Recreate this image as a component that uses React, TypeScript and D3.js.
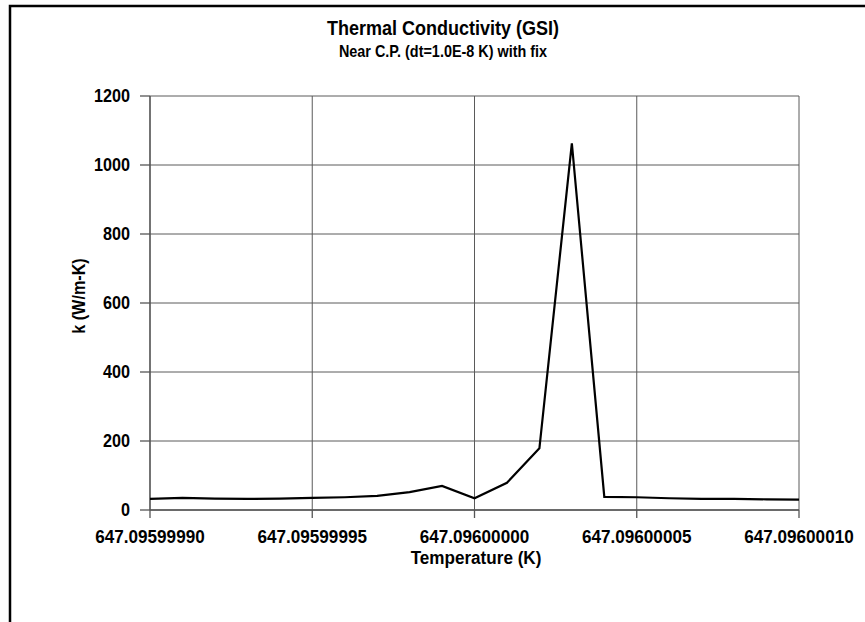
import React from "react";
import * as d3 from "d3";

const temperatures: number[] = [
  647.0959999, 647.09599991, 647.09599992, 647.09599993, 647.09599994,
  647.09599995, 647.09599996, 647.09599997, 647.09599998, 647.09599999,
  647.096, 647.09600001, 647.09600002, 647.09600003, 647.09600004,
  647.09600005, 647.09600006, 647.09600007, 647.09600008, 647.09600009,
  647.0960001,
];
const conductivity: number[] = [
  32, 35, 33, 32, 33, 35, 37, 41, 52, 70, 34, 79, 179, 1063, 38, 37, 34, 32, 32,
  31, 30,
];
const xTicks: number[] = [647.0959999, 647.09599995, 647.096, 647.09600005, 647.0960001];
const xTickLabels: string[] = [
  "647.09599990",
  "647.09599995",
  "647.09600000",
  "647.09600005",
  "647.09600010",
];
const yTicks: number[] = [0, 200, 400, 600, 800, 1000, 1200];

const W = 865;
const H = 622;
const left = 150;
const right = 799;
const top = 96;
const bottom = 510;
const FONT = "'Liberation Sans', Arial, Helvetica, sans-serif";
const GRID = "#5a5a5a";
const SX = 0.9;

function T(props: {
  x: number;
  y: number;
  size: number;
  anchor: "start" | "middle" | "end";
  rotate?: number;
  children: React.ReactNode;
}) {
  const rot = props.rotate ? ` rotate(${props.rotate})` : "";
  return (
    <text
      transform={`translate(${props.x},${props.y})${rot} scale(${SX},1)`}
      textAnchor={props.anchor}
      fontSize={props.size}
      fontWeight="bold"
      fill="#000"
    >
      {props.children}
    </text>
  );
}

export default function App() {
  const x = d3.scaleLinear().domain([xTicks[0], xTicks[xTicks.length - 1]]).range([left, right]);
  const y = d3.scaleLinear().domain([0, 1200]).range([bottom, top]);
  const line = d3
    .line<number>()
    .x((_, i) => x(temperatures[i]))
    .y((d) => y(d));
  const path = line(conductivity) || "";

  return (
    <svg
      width={W}
      height={H}
      style={{ position: "absolute", left: 0, top: 0, background: "#fff" }}
      fontFamily={FONT}
    >
      <rect x={0} y={0} width={W} height={H} fill="#fdfdfd" />
      <rect x={10} y={6} width={1000} height={1000} fill="#fff" stroke="#000" strokeWidth={2.5} />

      {yTicks.map((t) => (
        <line key={"hy" + t} x1={left} x2={right} y1={y(t)} y2={y(t)} stroke={GRID} strokeWidth={1} />
      ))}
      {xTicks.map((t) => (
        <line key={"vx" + t} x1={x(t)} x2={x(t)} y1={top} y2={bottom} stroke={GRID} strokeWidth={1} />
      ))}
      <line x1={left} x2={left} y1={top} y2={bottom} stroke="#555" strokeWidth={1.3} />
      <line x1={left} x2={right} y1={bottom} y2={bottom} stroke="#555" strokeWidth={1.3} />
      {yTicks.map((t) => (
        <line key={"ty" + t} x1={left - 10} x2={left} y1={y(t)} y2={y(t)} stroke="#555" strokeWidth={1.3} />
      ))}
      {xTicks.map((t) => (
        <line key={"tx" + t} x1={x(t)} x2={x(t)} y1={bottom} y2={bottom + 8} stroke="#555" strokeWidth={1.3} />
      ))}

      <path d={path} fill="none" stroke="#000" strokeWidth={2.2} strokeLinejoin="miter" />

      {yTicks.map((t) => (
        <T key={"ly" + t} x={130} y={y(t) + 6} size={18} anchor="end">
          {t}
        </T>
      ))}
      {xTicks.map((t, i) => (
        <T key={"lx" + t} x={x(t)} y={543} size={19} anchor="middle">
          {xTickLabels[i]}
        </T>
      ))}

      <T x={443} y={35} size={20} anchor="middle">
        Thermal Conductivity (GSI)
      </T>
      <T x={443} y={57} size={16} anchor="middle">
        Near C.P. (dt=1.0E-8 K) with fix
      </T>
      <T x={476} y={564} size={19} anchor="middle">
        Temperature (K)
      </T>
      <T x={85} y={296} size={18} anchor="middle" rotate={-90}>
        k (W/m-K)
      </T>
    </svg>
  );
}
